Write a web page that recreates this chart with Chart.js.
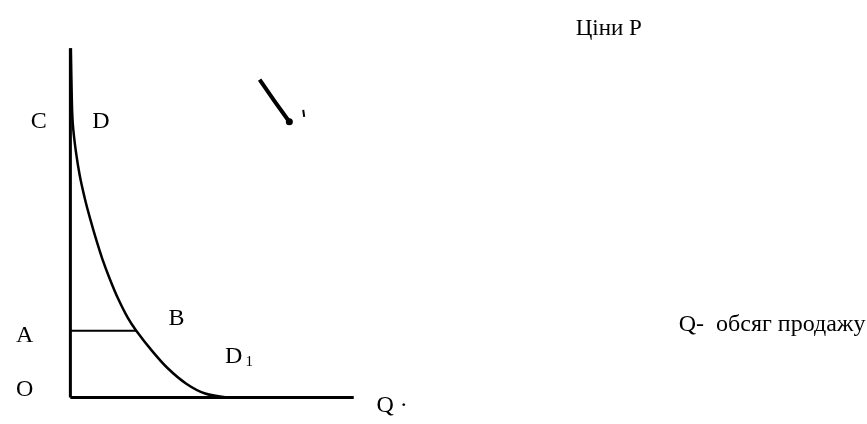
<!DOCTYPE html>
<html>
<head>
<meta charset="utf-8">
<style>
  html, body { margin: 0; padding: 0; background: #fff; }
  #wrap { width: 867px; height: 424px; }
</style>
</head>
<body>
  <div id="wrap"><canvas id="c"></canvas></div>

  <script src="https://cdn.jsdelivr.net/npm/chart.js"></script>

  <script>
    // demand curve D-D1, Q on x, P on y (40px per unit)
    const curveQ = [0.0125, 0.0375, 0.0625, 0.1375, 0.2375, 0.375, 0.5, 0.65, 0.8075, 0.9925, 1.2, 1.45, 1.6625, 2.05, 2.45, 2.925, 3.4, 3.95, 4.325];
    const curveP = [8.9, 7.525, 6.95, 6.275, 5.65, 5.025, 4.55, 4.025, 3.525, 3.025, 2.525, 2.025, 1.7, 1.2, 0.75, 0.35, 0.1, 0, 0];

    const axisTopP = 8.9;     // top of price axis
    const axisEndQ = 7.15;    // end of quantity axis
    const priceA = 1.7;       // level A
    const qtyB = 1.6625;      // point B on the curve

    // ink smudge on the scan
    const smudgeQ = [4.775, 5.15, 5.525];
    const smudgeP = [8.1, 7.55, 7.025];

    const labelText = ['C', 'D', 'A', 'O', 'B', 'D', 'Q ·', 'Ціни P', 'Q-  обсяг продажу'];
    const labelQ = [-1.0, 0.55, -1.375, -1.375, 2.475, 3.9, 7.725, 12.75, 15.35];
    const labelP = [6.875, 6.875, 1.425, 0.025, 1.85, 0.875, -0.375, 9.225, 1.7];

    const toPts = (xs, ys) => xs.map((x, i) => ({ x, y: ys[i] }));

    const labelsPlugin = {
      id: 'labels',
      afterDatasetsDraw(chart) {
        const { ctx, scales: { x, y } } = chart;
        ctx.save();
        ctx.fillStyle = '#000';
        ctx.textBaseline = 'alphabetic';
        ctx.textAlign = 'left';
        labelText.forEach((t, i) => {
          ctx.font = i == 7 ? '23px "Liberation Serif"' : '24px "Liberation Serif"';
          ctx.fillText(t, x.getPixelForValue(labelQ[i]), y.getPixelForValue(labelP[i]));
        });
        // subscript of D1
        ctx.font = '15px "Liberation Serif"';
        ctx.fillText('1', x.getPixelForValue(4.42), y.getPixelForValue(0.8));
        ctx.restore();
      }
    };

    const line = (data, width) => ({
      data, showLine: true, borderColor: '#000', borderWidth: width,
      pointRadius: 0, fill: false, tension: 0,
    });

    const curve = line(toPts(curveQ, curveP), 2.5);
    curve.tension = 0.25;

    const smudge = line(toPts(smudgeQ, smudgeP), 4);
    smudge.pointRadius = [0, 0, 3.5];
    smudge.pointBackgroundColor = '#000';
    smudge.pointBorderWidth = 0;

    new Chart(document.getElementById('c'), {
      type: 'scatter',
      data: {
        datasets: [
          line([{ x: 0, y: 0 }, { x: 0, y: axisTopP }], 3),
          line([{ x: 0, y: 0 }, { x: axisEndQ, y: 0 }], 3),
          line([{ x: 0, y: priceA }, { x: qtyB, y: priceA }], 2),
          curve,
          smudge,
          line([{ x: 5.875, y: 7.325 }, { x: 5.9, y: 7.15 }], 2),
        ]
      },
      options: {
        responsive: true,
        maintainAspectRatio: false,
        animation: false,
        layout: { padding: 0 },
        plugins: { legend: { display: false }, tooltip: { enabled: false } },
        scales: {
          x: { type: 'linear', display: false, min: -1.675, max: 20 },
          y: { type: 'linear', display: false, min: -0.575, max: 10.025 },
        },
      },
      plugins: [labelsPlugin],
    });
  </script>
</body>
</html>
